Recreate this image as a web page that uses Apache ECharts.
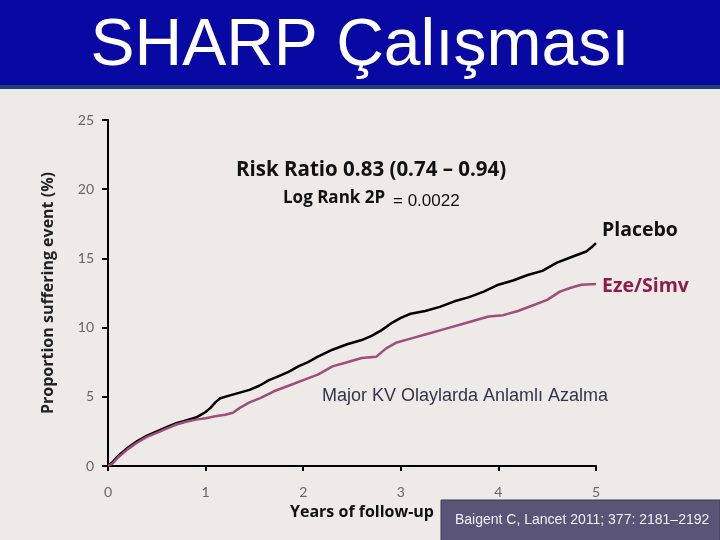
<!DOCTYPE html>
<html>
<head>
<meta charset="utf-8">
<script src="https://cdn.jsdelivr.net/npm/echarts@6/dist/echarts.min.js"></script>
<style>
  html, body { margin: 0; padding: 0; background: #edeae7; }
  #chart { width: 720px; height: 540px; }
</style>
</head>
<body>
<div id="chart"></div>
<script>
// follow-up years and cumulative event proportion (%)
var placeboYears = [0, 0.05, 0.1, 0.2, 0.3, 0.4, 0.5, 0.6, 0.7, 0.8, 0.9, 0.95, 1.0, 1.05, 1.1, 1.15, 1.25, 1.35, 1.45, 1.55, 1.65, 1.75, 1.85, 1.95, 2.05, 2.15, 2.3, 2.45, 2.6, 2.7, 2.8, 2.9, 3.0, 3.1, 3.25, 3.4, 3.55, 3.7, 3.85, 4.0, 4.15, 4.3, 4.45, 4.6, 4.75, 4.9, 4.97, 5.0]
var placeboValues = [0, 0.3, 0.7, 1.3, 1.8, 2.2, 2.5, 2.8, 3.1, 3.3, 3.5, 3.7, 3.9, 4.2, 4.6, 4.9, 5.1, 5.3, 5.5, 5.8, 6.2, 6.5, 6.8, 7.2, 7.5, 7.9, 8.4, 8.8, 9.1, 9.4, 9.8, 10.3, 10.7, 11.0, 11.2, 11.5, 11.9, 12.2, 12.6, 13.1, 13.4, 13.8, 14.1, 14.7, 15.1, 15.5, 15.9, 16.1]

var ezeYears = [0, 0.05, 0.1, 0.2, 0.3, 0.4, 0.5, 0.6, 0.7, 0.8, 0.9, 1.0, 1.1, 1.2, 1.28, 1.35, 1.45, 1.56, 1.7, 1.85, 2.0, 2.15, 2.3, 2.45, 2.6, 2.75, 2.85, 2.95, 3.1, 3.25, 3.4, 3.5, 3.65, 3.8, 3.9, 4.05, 4.2, 4.35, 4.5, 4.63, 4.75, 4.85, 5.0]
var ezeValues = [0, 0.2, 0.6, 1.2, 1.7, 2.1, 2.4, 2.7, 3.0, 3.2, 3.35, 3.45, 3.6, 3.7, 3.85, 4.2, 4.6, 4.9, 5.4, 5.8, 6.2, 6.6, 7.2, 7.5, 7.8, 7.9, 8.5, 8.9, 9.2, 9.5, 9.8, 10.0, 10.3, 10.6, 10.8, 10.9, 11.2, 11.6, 12.0, 12.6, 12.9, 13.1, 13.15]

var seriesNames = ['Placebo', 'Eze/Simv']

function pairs (xs, ys) {
  var out = []
  for (var i = 0; i < xs.length; i++) out.push([xs[i], ys[i]])
  return out
}

var myChart = echarts.init(document.getElementById('chart'))
var boldFont = '"Open Sans"'
var option = {
  backgroundColor: '#edeae7',
  animation: false,
  title: {
    text: 'SHARP Çalışması',
    left: 'center',
    top: 9,
    textStyle: { color: '#ffffff', fontFamily: 'Liberation Sans', fontSize: 66, fontWeight: 'normal' }
  },
  graphic: [
    { type: 'rect', z: -1, shape: { x: 0, y: 0, width: 720, height: 87 }, style: { fill: '#0808a2' } },
    { type: 'rect', z: -1, shape: { x: 0, y: 85, width: 720, height: 4 }, style: { fill: '#1c3f78' } },
    {
      type: 'text', left: 236, top: 160,
      style: { text: 'Risk Ratio 0.83 (0.74 – 0.94)', fill: '#111', font: 'bold 20.5px "Open Sans"' }
    },
    {
      type: 'text', left: 283, top: 190,
      style: { text: 'Log Rank 2P', fill: '#111', font: 'bold 17px "Open Sans"' }
    },
    {
      type: 'text', left: 393, top: 193,
      style: { text: '= 0.0022', fill: '#111', font: '17px "Liberation Sans"' }
    },
    {
      type: 'text', left: 602, top: 220,
      style: { text: seriesNames[0], fill: '#111', font: 'bold 19.5px "Open Sans"' }
    },
    {
      type: 'text', left: 602, top: 276,
      style: { text: seriesNames[1], fill: '#8c1d4d', font: 'bold 19.5px "Open Sans"' }
    },
    {
      type: 'text', left: 322, top: 387,
      style: { text: 'Major KV Olaylarda Anlamlı Azalma', fill: '#34344e', font: '18px "Liberation Sans"' }
    },
    {
      type: 'rect', shape: { x: 441, y: 500, width: 279, height: 42 },
      style: { fill: '#5a5477', stroke: '#3c3858', lineWidth: 1 }
    },
    {
      type: 'text', left: 455, top: 513,
      style: { text: 'Baigent C, Lancet 2011; 377: 2181–2192', fill: '#f0f0f5', font: '14px "Liberation Sans"' }
    }
  ],
  grid: { left: 108, right: 124, top: 120, bottom: 74 },
  xAxis: {
    type: 'value',
    min: 0,
    max: 5,
    interval: 1,
    name: 'Years of follow-up',
    nameLocation: 'middle',
    nameGap: 38,
    nameTextStyle: { color: '#111', fontFamily: boldFont, fontWeight: 'bold', fontSize: 16, padding: [0, 0, 0, 20] },
    axisLine: { show: true, lineStyle: { color: '#000', width: 2 } },
    axisTick: { show: true, length: 5, lineStyle: { color: '#000', width: 2 } },
    axisLabel: { color: '#666', fontFamily: 'Lato', fontSize: 14, margin: 19 },
    splitLine: { show: false }
  },
  yAxis: {
    type: 'value',
    min: 0,
    max: 25,
    interval: 5,
    name: 'Proportion suffering event (%)',
    nameLocation: 'middle',
    nameRotate: 90,
    nameGap: 52,
    nameTextStyle: { color: '#222', fontFamily: boldFont, fontWeight: 'bold', fontSize: 16 },
    axisLine: { show: true, lineStyle: { color: '#000', width: 2 } },
    axisTick: { show: true, length: 6, lineStyle: { color: '#000', width: 2 } },
    axisLabel: { color: '#666', fontFamily: 'Lato', fontSize: 14, margin: 14 },
    splitLine: { show: false }
  },
  series: [
    {
      name: seriesNames[0],
      type: 'line',
      symbol: 'none',
      data: pairs(placeboYears, placeboValues),
      lineStyle: { color: '#000', width: 2.5 }
    },
    {
      name: seriesNames[1],
      type: 'line',
      symbol: 'none',
      data: pairs(ezeYears, ezeValues),
      lineStyle: { color: '#a04d7b', width: 2.5 }
    }
  ]
}
myChart.setOption(option)
</script>
</body>
</html>
